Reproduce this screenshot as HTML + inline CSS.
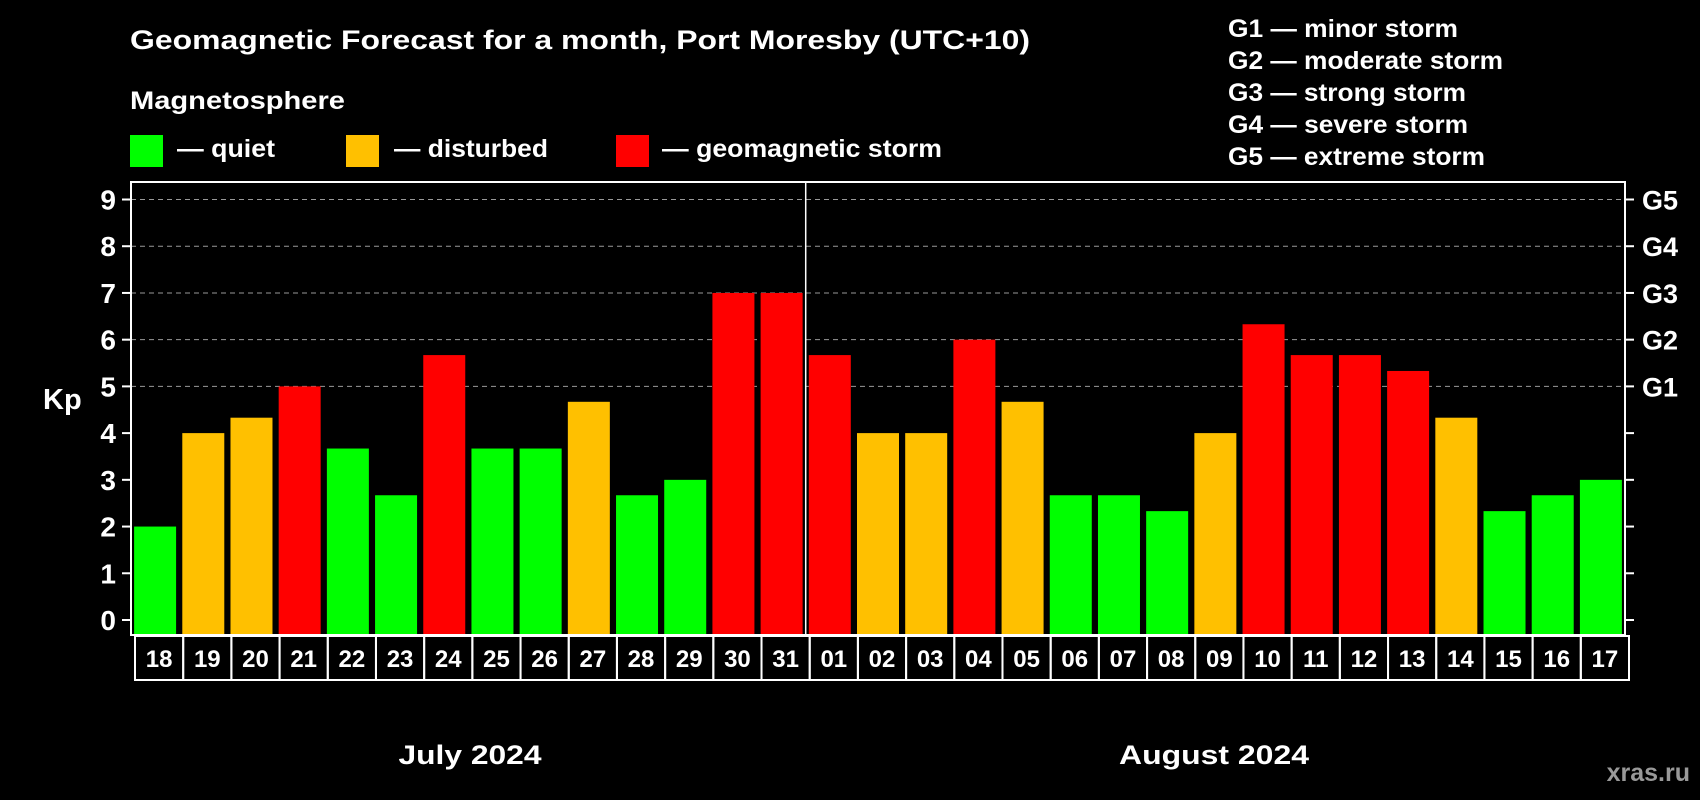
<!DOCTYPE html>
<html><head><meta charset="utf-8"><style>
html,body{margin:0;padding:0;background:#000;}
svg{display:block;font-family:"Liberation Sans",Arial,sans-serif;font-weight:bold;}
</style></head><body>
<svg id="chart" width="1700" height="800" viewBox="0 0 1700 800" xmlns="http://www.w3.org/2000/svg">
<rect width="1700" height="800" fill="#000"/>
<text x="130" y="49" fill="#fff" font-size="27" textLength="900" lengthAdjust="spacingAndGlyphs">Geomagnetic Forecast for a month, Port Moresby (UTC+10)</text>
<text x="130" y="109" fill="#fff" font-size="25" textLength="215" lengthAdjust="spacingAndGlyphs">Magnetosphere</text>
<g><rect x="130" y="135" width="33" height="32" fill="#00ff00"/><text x="177" y="157" fill="#fff" font-size="25" textLength="98" lengthAdjust="spacingAndGlyphs">— quiet</text></g>
<g><rect x="346" y="135" width="33" height="32" fill="#ffc000"/><text x="394" y="157" fill="#fff" font-size="25" textLength="154" lengthAdjust="spacingAndGlyphs">— disturbed</text></g>
<g><rect x="616" y="135" width="33" height="32" fill="#ff0000"/><text x="662" y="157" fill="#fff" font-size="25" textLength="280" lengthAdjust="spacingAndGlyphs">— geomagnetic storm</text></g>
<g fill="#fff" font-size="25">
<text x="1228" y="37" textLength="230" lengthAdjust="spacingAndGlyphs">G1 — minor storm</text>
<text x="1228" y="69" textLength="275" lengthAdjust="spacingAndGlyphs">G2 — moderate storm</text>
<text x="1228" y="101" textLength="238" lengthAdjust="spacingAndGlyphs">G3 — strong storm</text>
<text x="1228" y="133" textLength="240" lengthAdjust="spacingAndGlyphs">G4 — severe storm</text>
<text x="1228" y="165" textLength="257" lengthAdjust="spacingAndGlyphs">G5 — extreme storm</text>
</g>
<text x="43" y="409" fill="#fff" font-size="29">Kp</text>
<g id="grid"></g><g id="bars"></g><g id="axes"></g><g id="xlabels"></g>
<text x="470" y="764" fill="#fff" font-size="27" text-anchor="middle" textLength="143" lengthAdjust="spacingAndGlyphs">July 2024</text>
<text x="1214" y="764" fill="#fff" font-size="27" text-anchor="middle" textLength="190" lengthAdjust="spacingAndGlyphs">August 2024</text>
<text x="1690" y="781" fill="#999" font-size="25" text-anchor="end">xras.ru</text>
</svg>
<script>
const days = ["18","19","20","21","22","23","24","25","26","27","28","29","30","31","01","02","03","04","05","06","07","08","09","10","11","12","13","14","15","16","17"];
const kpValues = [2,4,4.33,5,3.67,2.67,5.67,3.67,3.67,4.67,2.67,3,7,7,5.67,4,4,6,4.67,2.67,2.67,2.33,4,6.33,5.67,5.67,5.33,4.33,2.33,2.67,3];
const yTicks = [0,1,2,3,4,5,6,7,8,9];
const gLabels = ["G1","G2","G3","G4","G5"];
const gLevels = [5,6,7,8,9];
const monthSplitIndex = 14;

const NS="http://www.w3.org/2000/svg";
const L=131,R=1625,T=182,B=635,y0=620,unit=(620-199.5)/9;
const slot=(R-L)/days.length;
const xs=i=>L+slot*(i+0.5);
const ys=v=>y0-v*unit;
function mk(tag,attrs,parent){const e=document.createElementNS(NS,tag);for(const k in attrs)e.setAttribute(k,attrs[k]);parent.appendChild(e);return e;}
const grid=document.getElementById('grid'),bars=document.getElementById('bars'),axes=document.getElementById('axes'),xl=document.getElementById('xlabels');
gLevels.forEach((v,i)=>{
  const l=mk('line',{x1:L,x2:R,y1:ys(v),y2:ys(v),stroke:'#999','stroke-dasharray':'5,4','stroke-width':1},grid);
  
  
  const t=mk('text',{x:1642,y:ys(v)+10,fill:'#fff','font-size':27},axes);
  t.textContent=gLabels[i];
  
  
});
kpValues.forEach((v,i)=>{
  const c=v>=5?'#ff0000':(v>=4?'#ffc000':'#00ff00');
  const r=mk('rect',{x:xs(i)-21,y:ys(v),width:42,height:B-1-ys(v),fill:c},bars);
  
  
});
const f=mk('rect',{x:L,y:T,width:R-L,height:B-T,fill:'none',stroke:'#fff','stroke-width':2},axes);


const sx=L+slot*monthSplitIndex;
const d=mk('line',{x1:sx,x2:sx,y1:T,y2:B,stroke:'#fff','stroke-width':1.5},axes);


yTicks.forEach(v=>{
  mk('line',{x1:L-9,x2:L,y1:ys(v),y2:ys(v),stroke:'#fff','stroke-width':2},axes);
  mk('line',{x1:R,x2:R+9,y1:ys(v),y2:ys(v),stroke:'#fff','stroke-width':2},axes);
  const t=mk('text',{x:116,y:ys(v)+10,fill:'#fff','font-size':28,'text-anchor':'end'},axes);
  t.textContent=v;
  
  
});
days.forEach((dd,i)=>{
  const bx=L+4+slot*i;
  const r=mk('rect',{x:bx,y:636,width:slot,height:44,fill:'none',stroke:'#fff','stroke-width':2},xl);
  
  
  const t=mk('text',{x:bx+slot/2,y:667,fill:'#fff','font-size':24,'text-anchor':'middle'},xl);
  t.textContent=dd;
  
  
});
</script>
</body></html>
